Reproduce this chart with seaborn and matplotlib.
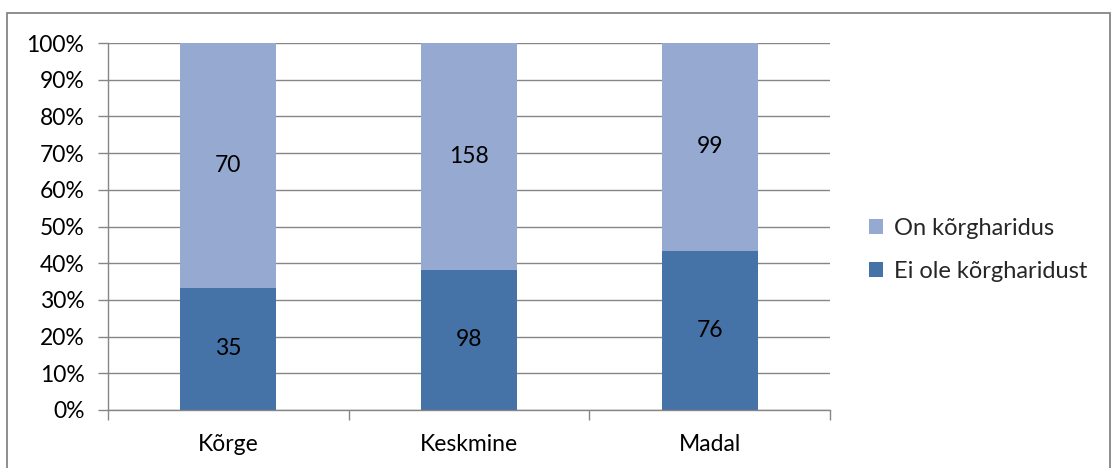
import matplotlib
matplotlib.use("Agg")
import matplotlib.pyplot as plt
import seaborn as sns
import pandas as pd
import numpy as np
from matplotlib.patches import Rectangle, Patch

categories = ["Kõrge", "Keskmine", "Madal"]
ei_ole = [35, 98, 76]
on = [70, 158, 99]
series_names = ["On kõrgharidus", "Ei ole kõrgharidust"]
yticks = [0, 10, 20, 30, 40, 50, 60, 70, 80, 90, 100]

dark = "#4572A7"
light = "#95A9D1"
grey = "#868686"

sns.set_theme(style="white")
plt.rcParams["font.family"] = ["Lato", "DejaVu Sans"]

tot = np.array(ei_ole) + np.array(on)
dark_pct = np.array(ei_ole) / tot * 100
light_pct = np.array(on) / tot * 100

df = pd.DataFrame({"cat": categories, "total": dark_pct + light_pct, "dark": dark_pct})

fig = plt.figure(figsize=(11.13, 4.68), dpi=100)
ax = fig.add_axes([108/1113, 1 - 410/468, (830-108)/1113, (410-43)/468])

sns.barplot(data=df, x="cat", y="total", color=light, width=0.4, ax=ax,
            saturation=1, edgecolor="none", order=categories)
sns.barplot(data=df, x="cat", y="dark", color=dark, width=0.4, ax=ax,
            saturation=1, edgecolor="none", order=categories)

fs = 16.5
for i in range(len(categories)):
    ax.text(i, dark_pct[i] / 2, str(ei_ole[i]), ha="center", va="center", fontsize=fs, color="black")
    ax.text(i, dark_pct[i] + light_pct[i] / 2, str(on[i]), ha="center", va="center", fontsize=fs, color="black")

ax.set_xlim(-0.5, 2.5)
ax.set_ylim(0, 100)
ax.set_yticks(yticks)
ax.set_yticklabels([f"{v}%" for v in yticks], fontsize=fs)
ax.set_xlabel("")
ax.set_ylabel("")
ax.set_axisbelow(True)
ax.yaxis.grid(True, color=grey, linewidth=1)
ax.xaxis.grid(False)
for s in ["top", "right"]:
    ax.spines[s].set_visible(False)
for s in ["left", "bottom"]:
    ax.spines[s].set_color(grey)
    ax.spines[s].set_linewidth(1)

ax.set_xticks([0, 1, 2])
ax.set_xticklabels(categories, fontsize=fs)
ax.tick_params(axis="x", length=0, pad=17, colors="black")
ax.tick_params(axis="y", length=7, color=grey, width=1, direction="out", left=True, pad=10, labelcolor="black")
ax.set_xticks([-0.5, 0.5, 1.5, 2.5], minor=True)
ax.tick_params(axis="x", which="minor", length=7, color=grey, width=1, direction="out", bottom=True)

handles = [Patch(facecolor=light, edgecolor="none"), Patch(facecolor=dark, edgecolor="none")]
fig.legend(handles, series_names, loc="center left", bbox_to_anchor=(869/1113, 1 - 250/468),
           frameon=False, fontsize=17, handlelength=0.6, handleheight=0.6,
           handletextpad=0.45, labelspacing=0.95, borderpad=0, borderaxespad=0)

fig.patches.append(Rectangle((7/1113, -0.01), (1110-7)/1113, 1 - 13/468 + 0.01,
                             transform=fig.transFigure, fill=False, edgecolor=grey, linewidth=1.3))

fig.savefig("out.png", dpi=100, facecolor="white")
